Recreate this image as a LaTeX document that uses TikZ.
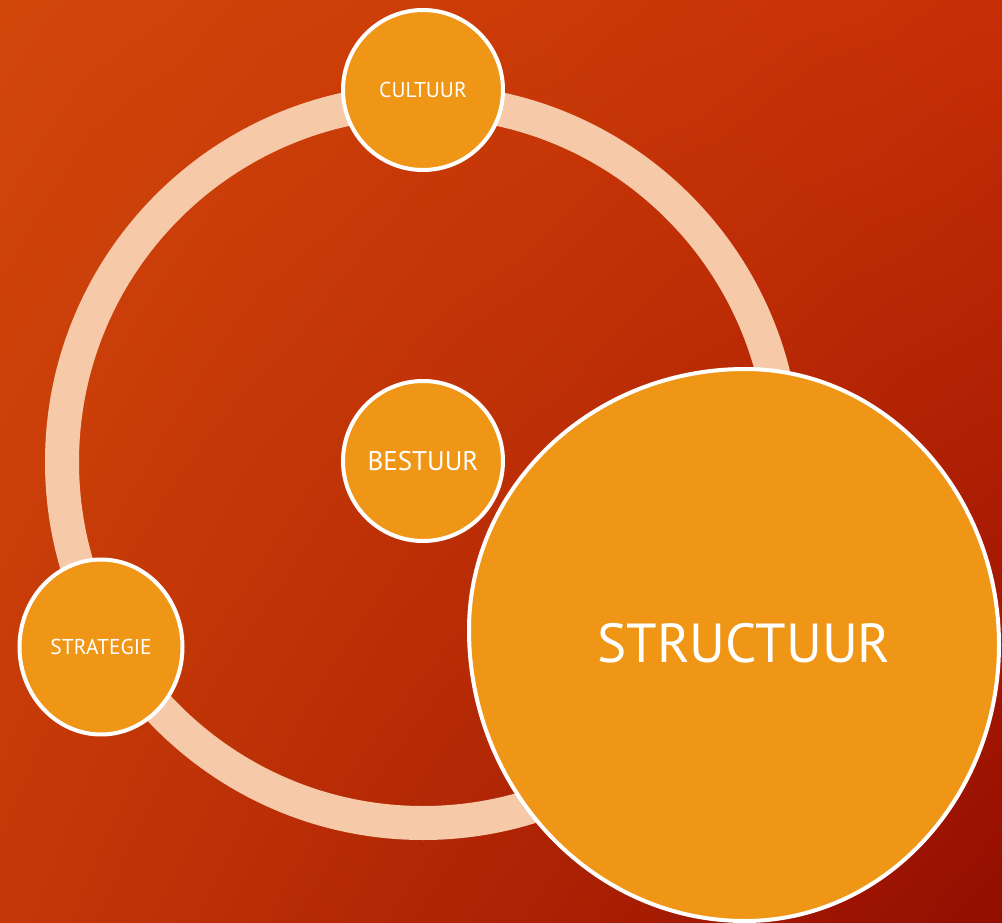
\documentclass[tikz,border=0pt]{standalone}
\usepackage{fontspec}
\setmainfont{PT Sans}
\usetikzlibrary{shapes.geometric,shadings}
\definecolor{bgtl}{HTML}{D2470A}
\definecolor{bgtr}{HTML}{C62F06}
\definecolor{bgbl}{HTML}{C43808}
\definecolor{bgbr}{HTML}{940D00}
\definecolor{ringpeach}{HTML}{F6C9A9}
\definecolor{bolfill}{HTML}{F09617}
\tikzset{
  ring/.style={draw=ringpeach,line width=34pt},
  bol/.style={circle,draw=white,line width=4pt,fill=bolfill,text=white,
    minimum size=160pt,inner sep=0pt},
  kleintxt/.style={font=\fontsize{21.5}{26}\selectfont},
}
\begin{document}
\begin{tikzpicture}[x=1pt,y=-1pt]
      \useasboundingbox (0,0) rectangle (1002,923);
      % achtergrond
      \shade[upper left=bgtl,upper right=bgtr,lower left=bgbl,lower right=bgbr]
        (0,0) rectangle (1002,923);
      \draw[ring] (423,462) circle[radius=361];
      \draw
        (423,90) node[bol,kleintxt] (cultuur){CULTUUR}
        (423,461) node[bol,font=\fontsize{27}{32}\selectfont] (bestuur){BESTUUR}
        (101,647) node[bol,ellipse,minimum width=163pt,minimum height=175pt,
          kleintxt] (strategie){STRATEGIE};
      \begin{scope}[line width=4pt]
        \draw[white,fill=bolfill] (745,369)
          .. controls (885,369) and (999,493) .. (999,645)
          .. controls (999,797) and (885,921) .. (745,921)
          .. controls (593,921) and (469,790) .. (469,630)
          .. controls (469,486) and (593,369) .. (745,369) -- cycle;
        \node[text=white,font=\fontsize{55}{62}\selectfont] (structuur)
          at (744,643) {STRUCTUUR};
      \end{scope}
    \end{tikzpicture}
\end{document}
